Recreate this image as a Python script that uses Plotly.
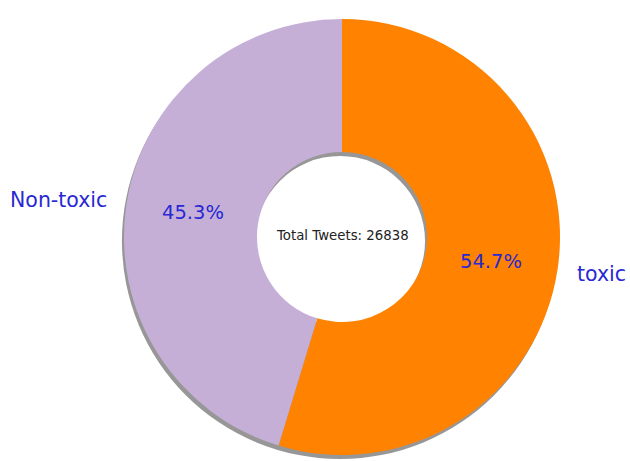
import math
import plotly.graph_objects as go

labels = ["toxic", "Non-toxic"]
counts = [14680, 12158]
colors = ["#FF8200", "#C6AFD7"]
center_label = "Total Tweets"

W, H = 630, 461
cx, cy, R = 342, 237, 218          # pixel geometry of the donut
hole = 0.39
shadow_dx, shadow_dy = -2, 4

def dom(cx_, cy_, r_):
    return dict(x=[(cx_ - r_) / W, (cx_ + r_) / W],
                y=[(H - cy_ - r_) / H, (H - cy_ + r_) / H])

total = sum(counts)
fig = go.Figure()
# shadow
fig.add_trace(go.Pie(values=[total], labels=["shadow"], marker=dict(colors=["rgba(125,125,125,0.8)"], line=dict(width=0)),
                     hole=hole, sort=False, direction="clockwise", rotation=0, textinfo="none",
                     hoverinfo="skip", showlegend=False, domain=dom(cx + shadow_dx, cy + shadow_dy, R)))
# main donut
fig.add_trace(go.Pie(values=counts, labels=labels, marker=dict(colors=colors, line=dict(width=0)),
                     hole=hole, sort=False, direction="clockwise", rotation=0, textinfo="none",
                     showlegend=False, domain=dom(cx, cy, R)))

font = "DejaVu Sans"
ann = []
start = 0.0
for lab, c in zip(labels, counts):
    frac = c / total
    mid = (start + frac / 2) * 2 * math.pi
    start += frac
    s, co = math.sin(mid), math.cos(mid)
    # outside label
    lx, ly = cx + 1.08 * R * s, cy - 1.15 * R * co
    ann.append(dict(x=lx / W, y=1 - ly / H, xref="paper", yref="paper", text=lab, showarrow=False,
                    xanchor="left" if s > 0 else "right", yanchor="middle",
                    font=dict(family=font, size=20.5, color="#2828d4")))
    # percentage
    px, py = cx + 0.69 * R * s, cy - 0.75 * R * co
    ann.append(dict(x=px / W, y=1 - py / H, xref="paper", yref="paper", text=f"{frac*100:.1f}%",
                    showarrow=False, xanchor="center", yanchor="middle",
                    font=dict(family=font, size=19.5, color="#2828d4")))

ann.append(dict(x=cx / W, y=1 - (cy - 2) / H, xref="paper", yref="paper", text=f"{center_label}: {total}",
                showarrow=False, xanchor="center", yanchor="middle",
                font=dict(family=font, size=13.3, color="#222222")))

fig.update_layout(width=W, height=H, margin=dict(l=0, r=0, t=0, b=0),
                  paper_bgcolor="white", plot_bgcolor="white", annotations=ann, showlegend=False)
fig.write_html("out.html")
